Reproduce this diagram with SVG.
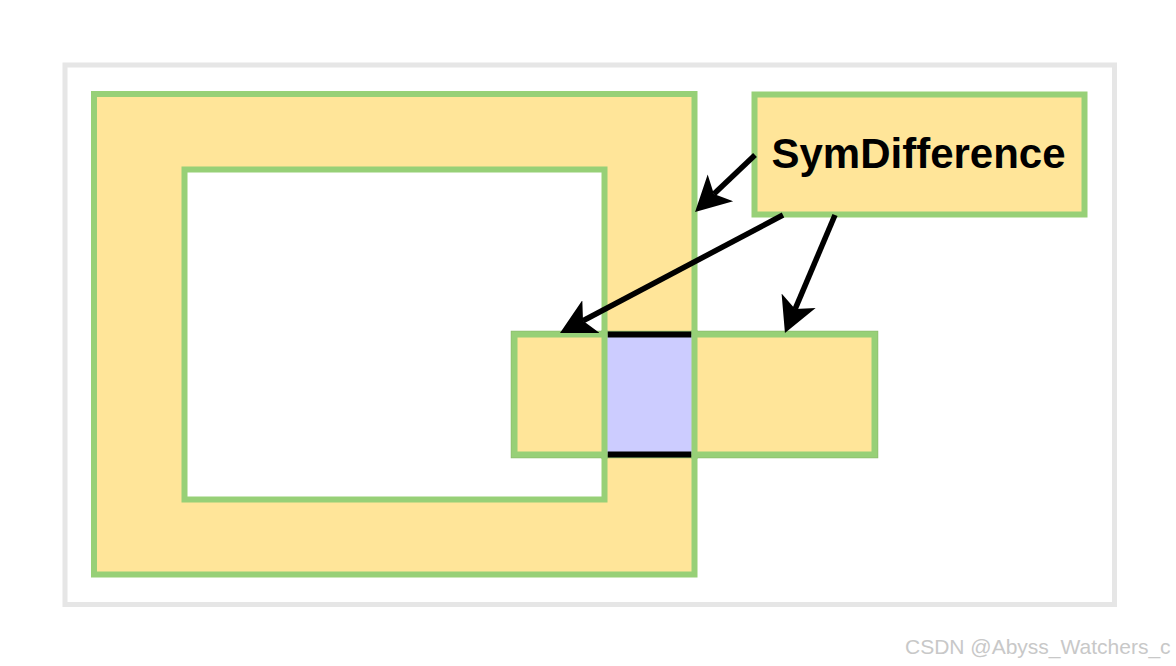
<svg xmlns="http://www.w3.org/2000/svg" width="1176" height="666" viewBox="0 0 1176 666">
<style>
.frame{fill:#ffffff;stroke:#e6e6e6;stroke-width:5}
.box{fill:#ffe599;stroke:#97d077;stroke-width:6}
.hole{fill:#ffffff;stroke:#97d077;stroke-width:6}
.gline{stroke:#97d077;stroke-width:6;fill:none}
.bline{stroke:#000000;stroke-width:6;fill:none}
.edge{stroke:#000000;stroke-width:5.5;fill:none;marker-end:url(#arr)}
.label{font-family:"Liberation Sans",Arial,sans-serif;font-weight:bold;font-size:42px;fill:#000000}
.wm{font-family:"Liberation Sans",Arial,sans-serif;font-size:21px;fill:#c8c8c8}
</style>
<defs>
<marker id="arr" markerUnits="userSpaceOnUse" viewBox="0 -20 36 40" markerWidth="36" markerHeight="40" refX="9" refY="0" orient="auto">
<path d="M35,0 L0,-18.5 L9,0 L0,18.5 Z" fill="#000000"/>
</marker>
</defs>
<rect class="frame" x="65" y="65" width="1049.5" height="539.5"/>
<g id="ring">
<rect class="box" x="94" y="94" width="600.5" height="480.5"/>
<rect class="hole" x="184.5" y="169.5" width="420" height="330"/>
</g>
<g id="bar">
<rect x="514.5" y="334.5" width="360" height="120" fill="none" stroke="#8cbc6e" stroke-width="7.5"/>
<rect class="box" x="514.5" y="334.5" width="360" height="120"/>
</g>
<g id="intersection">
<rect x="604.5" y="334.5" width="90" height="120" fill="#ccccff"/>
<line class="bline" x1="607.5" y1="334.5" x2="691.5" y2="334.5"/>
<line class="bline" x1="607.5" y1="454.5" x2="691.5" y2="454.5"/>
<line class="gline" x1="604.5" y1="330" x2="604.5" y2="459"/>
<line class="gline" x1="694.5" y1="330" x2="694.5" y2="459"/>
</g>
<g id="symdiff">
<rect class="box" x="754.5" y="94.5" width="330" height="120"/>
<text class="label" x="918.5" y="168" text-anchor="middle">SymDifference</text>
</g>
<g id="connectors">
<line class="edge" x1="755" y1="155" x2="713.9" y2="194.1"/>
<line class="edge" x1="783" y1="215" x2="583" y2="320.8"/>
<line class="edge" x1="835" y1="215" x2="795.1" y2="309.1"/>
</g>
<text class="wm" x="905" y="654">CSDN @Abyss_Watchers_c</text>
</svg>
